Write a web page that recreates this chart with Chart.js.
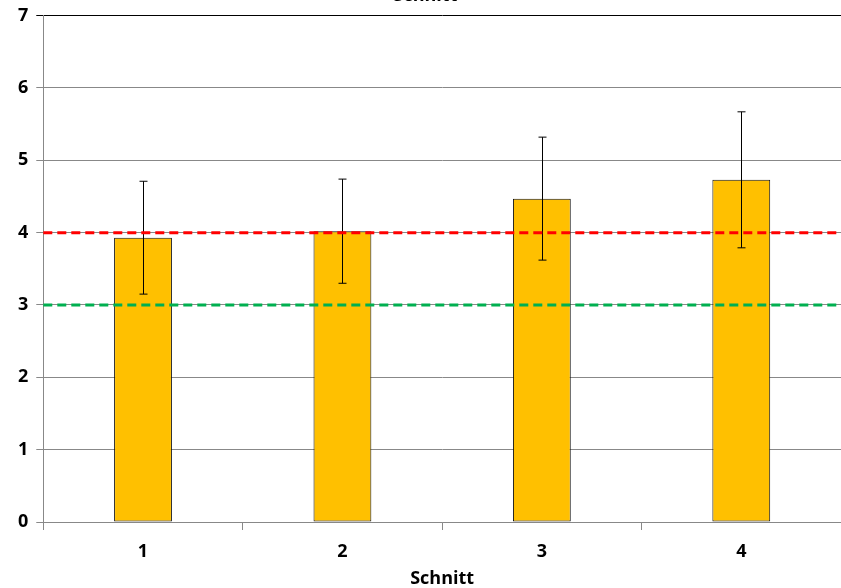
<!DOCTYPE html>
<html>
<head>
<meta charset="utf-8">
<script src="https://cdn.jsdelivr.net/npm/chart.js@4"></script>
<style>
  html, body { margin: 0; padding: 0; background: #fff; overflow: hidden; }
  #wrap { position: absolute; left: 0; top: -20px; width: 841px; height: 608px; }
</style>
</head>
<body>
<div id="wrap"><canvas id="chart" width="841" height="608"></canvas></div>
<script>
const categories = ['1', '2', '3', '4'];
const means = [3.93, 4.02, 4.47, 4.73];
const errors = [0.78, 0.72, 0.85, 0.94];
const refValues = [4, 3];
const refColors = ['#FF0000', '#00B050'];

const fontFamily = "'Open Sans', 'Noto Sans', sans-serif";

// error bars + dashed reference lines, drawn through the scales
const overlay = {
  id: 'overlay',
  afterDatasetsDraw(chart) {
    const ctx = chart.ctx;
    const x = chart.scales.x, y = chart.scales.y;
    const area = chart.chartArea;
    ctx.save();
    ctx.strokeStyle = '#000';
    ctx.lineWidth = 1;
    means.forEach((m, i) => {
      const px = Math.round(x.getPixelForValue(i)) + 0.5;
      const top = y.getPixelForValue(m + errors[i]);
      const bot = y.getPixelForValue(m - errors[i]);
      ctx.beginPath();
      ctx.moveTo(px, top); ctx.lineTo(px, bot);
      ctx.moveTo(px - 4, top); ctx.lineTo(px + 4, top);
      ctx.moveTo(px - 4, bot); ctx.lineTo(px + 4, bot);
      ctx.stroke();
    });
    ctx.lineWidth = 3;
    ctx.setLineDash([9, 5]);
    refValues.forEach((v, i) => {
      const py = y.getPixelForValue(v);
      ctx.strokeStyle = refColors[i];
      ctx.beginPath();
      ctx.moveTo(area.left, py); ctx.lineTo(area.right, py);
      ctx.stroke();
    });
    ctx.restore();
  }
};

new Chart(document.getElementById('chart'), {
  type: 'bar',
  data: {
    labels: categories,
    datasets: [{
      data: means,
      backgroundColor: '#FFC000',
      borderColor: '#111',
      borderWidth: 1,
      borderSkipped: false,
      barPercentage: 0.29,
      categoryPercentage: 1.0
    }]
  },
  options: {
    responsive: false,
    animation: false,
    layout: { padding: { left: 10, right: 0, top: 0, bottom: 0 } },
    plugins: {
      legend: { display: false },
      tooltip: { enabled: false },
      title: {
        display: true,
        text: 'Schnitt',
        color: '#000',
        font: { family: fontFamily, size: 18, weight: 'bold' },
        padding: { top: 5, bottom: 9 }
      }
    },
    scales: {
      x: {
        grid: { offset: true, drawOnChartArea: false, color: '#888', tickLength: 8 },
        border: { color: '#888' },
        ticks: { color: '#000', font: { family: fontFamily, size: 18, weight: 'bold', lineHeight: 1 }, padding: 13 },
        title: {
          display: true, text: 'Schnitt', color: '#000',
          font: { family: fontFamily, size: 18, weight: 'bold', lineHeight: 1 },
          padding: { top: -4, bottom: 0 }
        }
      },
      y: {
        min: 0, max: 7,
        ticks: { stepSize: 1, color: '#000', font: { family: fontFamily, size: 18, weight: 'bold' }, padding: 8 },
        grid: {
          color: ctx => ctx.tick && ctx.tick.value === 7 ? '#000' : '#888',
          tickLength: 7
        },
        border: { color: '#888' }
      }
    }
  },
  plugins: [overlay]
});
</script>
</body>
</html>
